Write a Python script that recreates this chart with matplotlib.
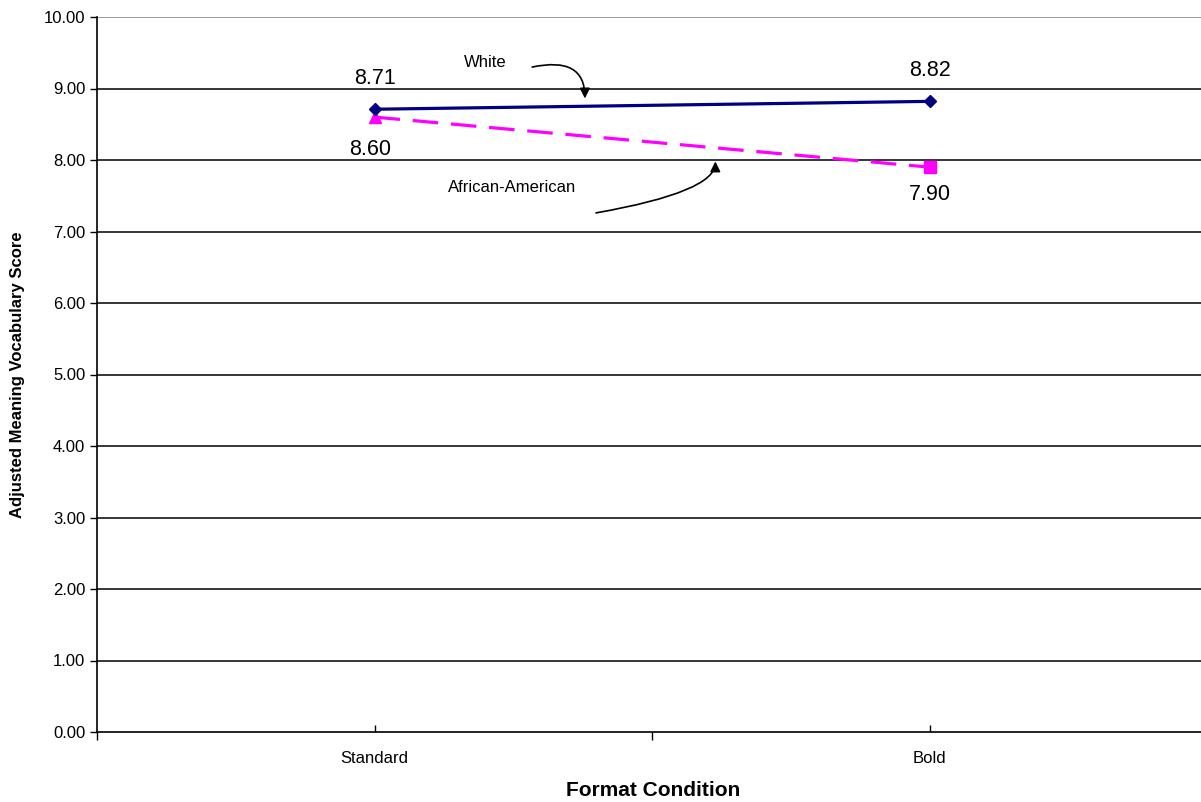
import matplotlib.pyplot as plt

categories = ["Standard", "Bold"]
white = [8.71, 8.82]
african_american = [8.60, 7.90]
aa_markers = ["^", "s"]
yticks = [0, 1, 2, 3, 4, 5, 6, 7, 8, 9, 10]

plt.rcParams["font.family"] = ["Liberation Sans", "DejaVu Sans"]

fig = plt.figure(figsize=(12.01, 8.02), dpi=100)
ax = fig.add_axes([97 / 1201, 70 / 802, 1 - 97 / 1201, 715 / 802])

x = list(range(len(categories)))

# gridlines
for v in yticks[1:-1]:
    ax.axhline(v, color="black", lw=1.1, zorder=1)
ax.axhline(10, color="#808080", lw=1.1, zorder=1)

ax.plot(x, white, color="#000080", lw=2.3, marker="D", ms=6.5, zorder=4)
ax.plot(x, african_american, color="#FF00FF", lw=2.3, ls=(0, (8, 4)), zorder=3)
for xi, yi, m in zip(x, african_american, aa_markers):
    ax.plot(xi, yi, marker=m, color="#FF00FF", ms=8, zorder=3)

for xi, yi in zip(x, white):
    ax.annotate(f"{yi:.2f}", (xi, yi), xytext=(0, 22), textcoords="offset points",
                ha="center", va="center", fontsize=15.5)
for xi, yi, dx, dy in zip(x, african_american, [-3, 0], [-23, -20]):
    ax.annotate(f"{yi:.2f}", (xi, yi), xytext=(dx, dy), textcoords="offset points",
                ha="center", va="center", fontsize=15.5)

# series labels with curved arrows
ax.text(0.199, 9.36, "White", ha="center", va="center", fontsize=12)
ax.annotate("", xy=(0.379, 8.86), xytext=(0.284, 9.30),
            arrowprops=dict(arrowstyle="-|>", color="black", lw=1.2, shrinkA=0, shrinkB=0,
                            mutation_scale=15,
                            connectionstyle="angle3,angleA=12,angleB=90"))
ax.text(0.248, 7.62, "African-American", ha="center", va="center", fontsize=12)
ax.annotate("", xy=(0.614, 7.98), xytext=(0.399, 7.26),
            arrowprops=dict(arrowstyle="-|>", color="black", lw=1.2, shrinkA=0, shrinkB=0,
                            mutation_scale=15,
                            connectionstyle="angle3,angleA=10,angleB=90"))

ax.set_yticks(yticks)
ax.set_yticklabels([f"{v:.2f}" for v in yticks], fontsize=12)
ax.tick_params(axis="y", direction="out", length=5, width=1)

ax.set_xticks([-0.5, 0.5, 1.5])
ax.set_xticklabels([])
ax.tick_params(axis="x", which="major", direction="out", length=6, width=1)
ax.set_xticks(x, minor=True)
ax.set_xticklabels(categories, minor=True, fontsize=12)
ax.tick_params(axis="x", which="minor", direction="in", length=5, width=1, pad=14)

ax.set_xlim(-0.5, 1.489)
ax.set_ylim(0, 10)

ax.spines["top"].set_visible(False)
ax.spines["right"].set_visible(False)
ax.spines["bottom"].set_linewidth(1.2)
ax.spines["left"].set_linewidth(1.2)

ax.set_xlabel("Format Condition", fontsize=15, fontweight="bold")
ax.set_ylabel("Adjusted Meaning Vocabulary Score", fontsize=12, fontweight="bold")
ax.xaxis.set_label_coords(0.5041, -0.0825)
ax.yaxis.set_label_coords(-0.0716, 0.5)
ax.xaxis.label.set_va("center")
ax.yaxis.label.set_va("center")

fig.savefig("out.png", dpi=100)
